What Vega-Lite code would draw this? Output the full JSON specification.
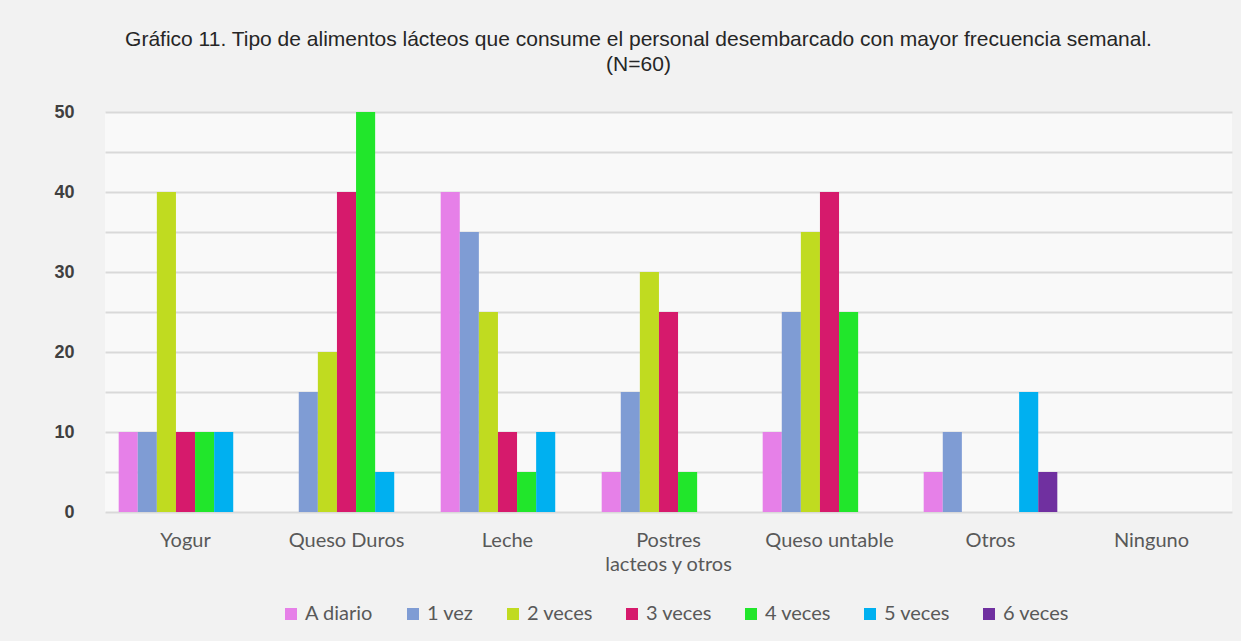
{
  "$schema": "https://vega.github.io/schema/vega-lite/v6.json",
  "width": 1127,
  "height": 400,
  "autosize": {"type": "none"},
  "padding": {"left": 105, "top": 112, "right": 9, "bottom": 129},
  "background": "#f2f2f2",
  "title": {
    "text": ["Gráfico 11. Tipo de alimentos lácteos que consume el personal desembarcado con mayor frecuencia semanal.", "(N=60)"],
    "font": "Liberation Sans",
    "fontSize": 21,
    "fontWeight": "normal",
    "color": "#262626",
    "anchor": "middle",
    "dx": -30,
    "offset": 28,
    "lineHeight": 25
  },
  "data": {
    "values": [
      {"alimento": "Yogur", "frecuencia": "A diario", "valor": 10},
      {"alimento": "Yogur", "frecuencia": "1 vez", "valor": 10},
      {"alimento": "Yogur", "frecuencia": "2 veces", "valor": 40},
      {"alimento": "Yogur", "frecuencia": "3 veces", "valor": 10},
      {"alimento": "Yogur", "frecuencia": "4 veces", "valor": 10},
      {"alimento": "Yogur", "frecuencia": "5 veces", "valor": 10},
      {"alimento": "Yogur", "frecuencia": "6 veces", "valor": 0},
      {"alimento": "Queso Duros", "frecuencia": "A diario", "valor": 0},
      {"alimento": "Queso Duros", "frecuencia": "1 vez", "valor": 15},
      {"alimento": "Queso Duros", "frecuencia": "2 veces", "valor": 20},
      {"alimento": "Queso Duros", "frecuencia": "3 veces", "valor": 40},
      {"alimento": "Queso Duros", "frecuencia": "4 veces", "valor": 50},
      {"alimento": "Queso Duros", "frecuencia": "5 veces", "valor": 5},
      {"alimento": "Queso Duros", "frecuencia": "6 veces", "valor": 0},
      {"alimento": "Leche", "frecuencia": "A diario", "valor": 40},
      {"alimento": "Leche", "frecuencia": "1 vez", "valor": 35},
      {"alimento": "Leche", "frecuencia": "2 veces", "valor": 25},
      {"alimento": "Leche", "frecuencia": "3 veces", "valor": 10},
      {"alimento": "Leche", "frecuencia": "4 veces", "valor": 5},
      {"alimento": "Leche", "frecuencia": "5 veces", "valor": 10},
      {"alimento": "Leche", "frecuencia": "6 veces", "valor": 0},
      {"alimento": "Postres lacteos y otros", "frecuencia": "A diario", "valor": 5},
      {"alimento": "Postres lacteos y otros", "frecuencia": "1 vez", "valor": 15},
      {"alimento": "Postres lacteos y otros", "frecuencia": "2 veces", "valor": 30},
      {"alimento": "Postres lacteos y otros", "frecuencia": "3 veces", "valor": 25},
      {"alimento": "Postres lacteos y otros", "frecuencia": "4 veces", "valor": 5},
      {"alimento": "Postres lacteos y otros", "frecuencia": "5 veces", "valor": 0},
      {"alimento": "Postres lacteos y otros", "frecuencia": "6 veces", "valor": 0},
      {"alimento": "Queso untable", "frecuencia": "A diario", "valor": 10},
      {"alimento": "Queso untable", "frecuencia": "1 vez", "valor": 25},
      {"alimento": "Queso untable", "frecuencia": "2 veces", "valor": 35},
      {"alimento": "Queso untable", "frecuencia": "3 veces", "valor": 40},
      {"alimento": "Queso untable", "frecuencia": "4 veces", "valor": 25},
      {"alimento": "Queso untable", "frecuencia": "5 veces", "valor": 0},
      {"alimento": "Queso untable", "frecuencia": "6 veces", "valor": 0},
      {"alimento": "Otros", "frecuencia": "A diario", "valor": 5},
      {"alimento": "Otros", "frecuencia": "1 vez", "valor": 10},
      {"alimento": "Otros", "frecuencia": "2 veces", "valor": 0},
      {"alimento": "Otros", "frecuencia": "3 veces", "valor": 0},
      {"alimento": "Otros", "frecuencia": "4 veces", "valor": 0},
      {"alimento": "Otros", "frecuencia": "5 veces", "valor": 15},
      {"alimento": "Otros", "frecuencia": "6 veces", "valor": 5},
      {"alimento": "Ninguno", "frecuencia": "A diario", "valor": 0},
      {"alimento": "Ninguno", "frecuencia": "1 vez", "valor": 0},
      {"alimento": "Ninguno", "frecuencia": "2 veces", "valor": 0},
      {"alimento": "Ninguno", "frecuencia": "3 veces", "valor": 0},
      {"alimento": "Ninguno", "frecuencia": "4 veces", "valor": 0},
      {"alimento": "Ninguno", "frecuencia": "5 veces", "valor": 0},
      {"alimento": "Ninguno", "frecuencia": "6 veces", "valor": 0}
    ]
  },
  "mark": {"type": "bar"},
  "encoding": {
    "x": {
      "field": "alimento",
      "type": "nominal",
      "sort": ["Yogur", "Queso Duros", "Leche", "Postres lacteos y otros", "Queso untable", "Otros", "Ninguno"],
      "scale": {"paddingInner": 0.17, "paddingOuter": 0.085},
      "axis": {
        "title": null,
        "domain": false,
        "ticks": false,
        "labelAngle": 0,
        "labelFont": "Lato",
        "labelFontSize": 20,
        "labelColor": "#595959",
        "labelPadding": 18,
        "labelLineHeight": 24,
        "labelExpr": "datum.value == 'Postres lacteos y otros' ? ['Postres', 'lacteos y otros'] : datum.value"
      }
    },
    "xOffset": {
      "field": "frecuencia",
      "type": "nominal",
      "sort": ["A diario", "1 vez", "2 veces", "3 veces", "4 veces", "5 veces", "6 veces"],
      "scale": {"paddingInner": 0, "paddingOuter": 0}
    },
    "y": {
      "field": "valor",
      "type": "quantitative",
      "scale": {"domain": [0, 50]},
      "axis": {
        "title": null,
        "domain": false,
        "ticks": false,
        "values": [0, 5, 10, 15, 20, 25, 30, 35, 40, 45, 50],
        "labelExpr": "datum.value % 10 === 0 ? datum.label : ''",
        "gridColor": "#d9d9d9",
        "gridWidth": 2,
        "labelFont": "Liberation Sans",
        "labelFontWeight": "bold",
        "labelFontSize": 18,
        "labelColor": "#404040",
        "labelPadding": 31
      }
    },
    "color": {
      "field": "frecuencia",
      "type": "nominal",
      "sort": ["A diario", "1 vez", "2 veces", "3 veces", "4 veces", "5 veces", "6 veces"],
      "scale": {
        "domain": ["A diario", "1 vez", "2 veces", "3 veces", "4 veces", "5 veces", "6 veces"],
        "range": ["#e680e8", "#7f9cd4", "#c0db20", "#d61a6c", "#21e62b", "#00b0f0", "#7030a0"]
      },
      "legend": {
        "orient": "none",
        "legendX": 176,
        "legendY": 492,
        "direction": "horizontal",
        "title": null,
        "symbolType": "square",
        "symbolSize": 144,
        "symbolStrokeWidth": 0,
        "labelFont": "Lato",
        "labelFontSize": 20,
        "labelColor": "#595959",
        "labelOffset": 4,
        "columnPadding": 29
      }
    }
  },
  "config": {
    "view": {"stroke": null, "fill": "#f9f9f9"}
  }
}
